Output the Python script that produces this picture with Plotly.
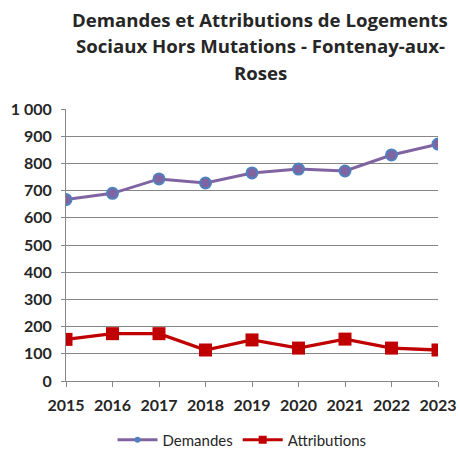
import plotly.graph_objects as go

years = [2015, 2016, 2017, 2018, 2019, 2020, 2021, 2022, 2023]
demandes = [667, 690, 743, 728, 765, 779, 772, 831, 871]
attributions = [153, 174, 174, 114, 151, 121, 154, 121, 114]
y_ticks = [0, 100, 200, 300, 400, 500, 600, 700, 800, 900, 1000]
y_labels = ["0", "100", "200", "300", "400", "500", "600", "700", "800", "900", "1 000"]
title_lines = ["Demandes et Attributions de Logements",
               "Sociaux Hors Mutations - Fontenay-aux-",
               "Roses"]

FONT = "Lato"
TFONT = "Open Sans"
fig = go.Figure()
fig.add_trace(go.Scatter(
    x=years, y=demandes, name="Demandes", mode="lines+markers",
    line=dict(color="#8064A2", width=3),
    marker=dict(symbol="circle", size=11, color="#8064A2",
                line=dict(color="#4F81BD", width=2)),
    showlegend=False,
))
fig.add_trace(go.Scatter(
    x=years, y=attributions, name="Attributions", mode="lines+markers",
    line=dict(color="#C00000", width=3.3),
    marker=dict(symbol="square", size=13, color="#C00000"),
    showlegend=False,
))
# legend entries (smaller legend markers as in the reference)
fig.add_trace(go.Scatter(
    x=[None], y=[None], name="Demandes", mode="lines+markers",
    line=dict(color="#8064A2", width=3),
    marker=dict(symbol="circle", size=6, color="#4F81BD"),
))
fig.add_trace(go.Scatter(
    x=[None], y=[None], name="Attributions", mode="lines+markers",
    line=dict(color="#C00000", width=3),
    marker=dict(symbol="square", size=8, color="#C00000"),
))

for t, yy in zip(title_lines, [19, 46, 72]):
    fig.add_annotation(text=f"<b>{t}</b>", xref="paper", yref="paper",
                       x=(260 - 66) / 372, y=1 + (109 - yy) / 272,
                       xanchor="center", yanchor="middle", showarrow=False,
                       font=dict(family=TFONT, size=18.6, color="#262626"))

fig.update_layout(
    width=460, height=454,
    margin=dict(l=66, r=22, t=109, b=73, autoexpand=False),
    plot_bgcolor="white", paper_bgcolor="white",
    showlegend=True,
    legend=dict(orientation="h", xref="container", yref="container",
                x=242 / 460, y=1 - 440 / 454, xanchor="center", yanchor="middle",
                font=dict(family=FONT, size=15, color="#262626"),
                itemwidth=40, tracegroupgap=0),
    font=dict(family=FONT),
)
fig.update_xaxes(
    range=[2015, 2023], tickmode="array", tickvals=years,
    ticktext=[f"<b>{y}</b>" for y in years],
    showline=True, linecolor="#868686", linewidth=1,
    ticks="outside", ticklen=5, tickcolor="#868686",
    showgrid=False, zeroline=False, automargin=False,
    ticklabelstandoff=5,
    tickfont=dict(family=FONT, size=16, color="#262626"),
)
fig.update_yaxes(
    range=[0, 1000], tickmode="array", tickvals=y_ticks,
    ticktext=[f"<b>{s}</b>" for s in y_labels],
    showline=True, linecolor="#868686", linewidth=1,
    ticks="outside", ticklen=4, tickcolor="#868686",
    showgrid=True, gridcolor="#868686", gridwidth=1, zeroline=False,
    automargin=False, ticklabelstandoff=6,
    tickfont=dict(family=FONT, size=16, color="#262626"),
)

fig.write_html("out.html", config={"displayModeBar": False},
               post_script="document.body.style.margin='0';document.body.style.overflow='hidden';")
